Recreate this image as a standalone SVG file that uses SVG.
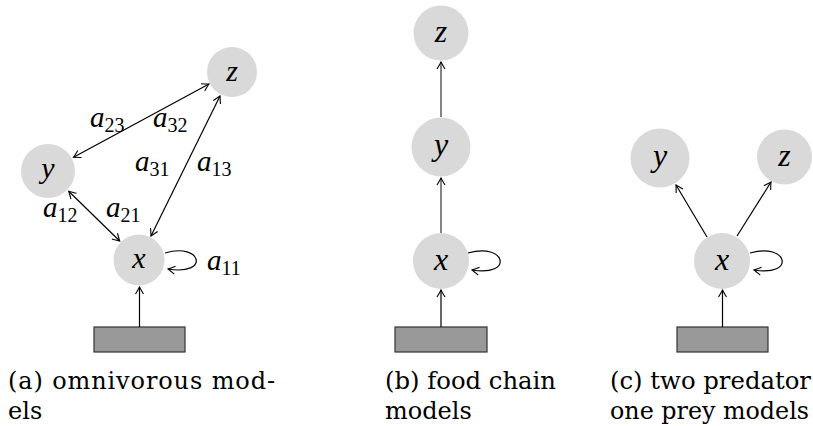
<svg xmlns="http://www.w3.org/2000/svg" width="813" height="426" viewBox="0 0 813 426">
<style>
.node{fill:#d9d9d9;stroke:none}
.lbl{font-family:"Liberation Serif","DejaVu Serif",serif;font-style:italic;fill:#000;text-anchor:middle}
.w{font-family:"Liberation Serif","DejaVu Serif",serif;font-style:italic;font-size:29px;fill:#000}
.sub{font-style:normal;font-size:20px}
.cap{font-family:"DejaVu Serif",serif;font-size:24px;fill:#000}
.edge{fill:none;stroke:#000;stroke-width:1.2}
.src{fill:#999;stroke:#333;stroke-width:1.2}
</style>
<defs>
<marker id="arr" viewBox="-8 -5 10 10" refX="0" refY="0" markerWidth="10" markerHeight="10" markerUnits="userSpaceOnUse" orient="auto-start-reverse">
<path d="M -7 -4 Q -2 -1 0 0 Q -2 1 -7 4" fill="none" stroke="#000" stroke-width="1.1"/>
</marker>
</defs>

<!-- Panel a -->
<g id="a-z"><circle class="node" cx="232" cy="72" r="25"/><text class="lbl" x="232" y="81" font-size="30">z</text></g>
<g id="a-y"><circle class="node" cx="48" cy="171" r="27"/><text class="lbl" x="48" y="178" font-size="30">y</text></g>
<g id="a-x"><circle class="node" cx="139" cy="260" r="25.5"/><text class="lbl" x="139" y="268" font-size="30">x</text></g>
<g id="a-src"><rect class="src" x="94" y="327" width="91" height="25"/></g>

<!-- Panel b -->
<g id="b-z"><circle class="node" cx="441" cy="33" r="27.5"/><text class="lbl" x="441" y="42" font-size="32">z</text></g>
<g id="b-y"><circle class="node" cx="441" cy="147" r="29.5"/><text class="lbl" x="441" y="155" font-size="32">y</text></g>
<g id="b-x"><circle class="node" cx="441" cy="261" r="28"/><text class="lbl" x="441" y="270" font-size="32">x</text></g>
<g id="b-src"><rect class="src" x="395" y="327" width="92" height="25"/></g>

<!-- Panel c -->
<g id="c-y"><circle class="node" cx="660" cy="158" r="29.5"/><text class="lbl" x="660" y="166" font-size="32">y</text></g>
<g id="c-z"><circle class="node" cx="784.5" cy="157" r="27.5"/><text class="lbl" x="784.5" y="166" font-size="32">z</text></g>
<g id="c-x"><circle class="node" cx="722" cy="261" r="28"/><text class="lbl" x="722" y="270" font-size="32">x</text></g>
<g id="c-src"><rect class="src" x="677" y="327" width="91" height="25"/></g>

<g id="connectors">
<path class="edge" d="M 73.5 157.3 L 209 84" marker-start="url(#arr)" marker-end="url(#arr)"/>
<path class="edge" d="M 151 236 L 220 96" marker-start="url(#arr)" marker-end="url(#arr)"/>
<path class="edge" d="M 68.7 191.3 L 119.7 241" marker-start="url(#arr)" marker-end="url(#arr)"/>
<path class="edge" d="M 165 253 C 202 242, 210 276, 168 269" marker-end="url(#arr)"/>
<path class="edge" d="M 139.5 327 L 139.5 287" marker-end="url(#arr)"/>

<path class="edge" style="stroke:#333" d="M 441 233 L 441 178" marker-end="url(#arr)"/>
<path class="edge" style="stroke:#333" d="M 441 117 L 441 62" marker-end="url(#arr)"/>
<path class="edge" d="M 468 253 C 506 242, 514 277, 472 270" marker-end="url(#arr)"/>
<path class="edge" d="M 441 327 L 441 290" marker-end="url(#arr)"/>

<path class="edge" d="M 707 237 L 676 185" marker-end="url(#arr)"/>
<path class="edge" d="M 737 236 L 771 182" marker-end="url(#arr)"/>
<path class="edge" d="M 750 253 C 788 242, 796 277, 754 270" marker-end="url(#arr)"/>
<path class="edge" d="M 722.5 327 L 722.5 290" marker-end="url(#arr)"/>
</g>

<g id="weights">
<text class="w" x="90" y="127">a<tspan class="sub" dy="5">23</tspan></text>
<text class="w" x="153" y="127">a<tspan class="sub" dy="5">32</tspan></text>
<text class="w" x="135" y="171">a<tspan class="sub" dy="5">31</tspan></text>
<text class="w" x="197" y="171">a<tspan class="sub" dy="5">13</tspan></text>
<text class="w" x="43" y="217">a<tspan class="sub" dy="5">12</tspan></text>
<text class="w" x="106" y="217">a<tspan class="sub" dy="5">21</tspan></text>
<text class="w" x="207" y="270">a<tspan class="sub" dy="5">11</tspan></text>
</g>

<g id="captions">
<text class="cap" x="8" y="389" textLength="267">(a) omnivorous mod-</text>
<text class="cap" x="8" y="419">els</text>
<text class="cap" x="385" y="389" textLength="171" lengthAdjust="spacingAndGlyphs">(b) food chain</text>
<text class="cap" x="385" y="419">models</text>
<text class="cap" x="610" y="389" textLength="201" lengthAdjust="spacingAndGlyphs">(c) two predator</text>
<text class="cap" x="610" y="419" textLength="199" lengthAdjust="spacingAndGlyphs">one prey models</text>
</g>
</svg>
